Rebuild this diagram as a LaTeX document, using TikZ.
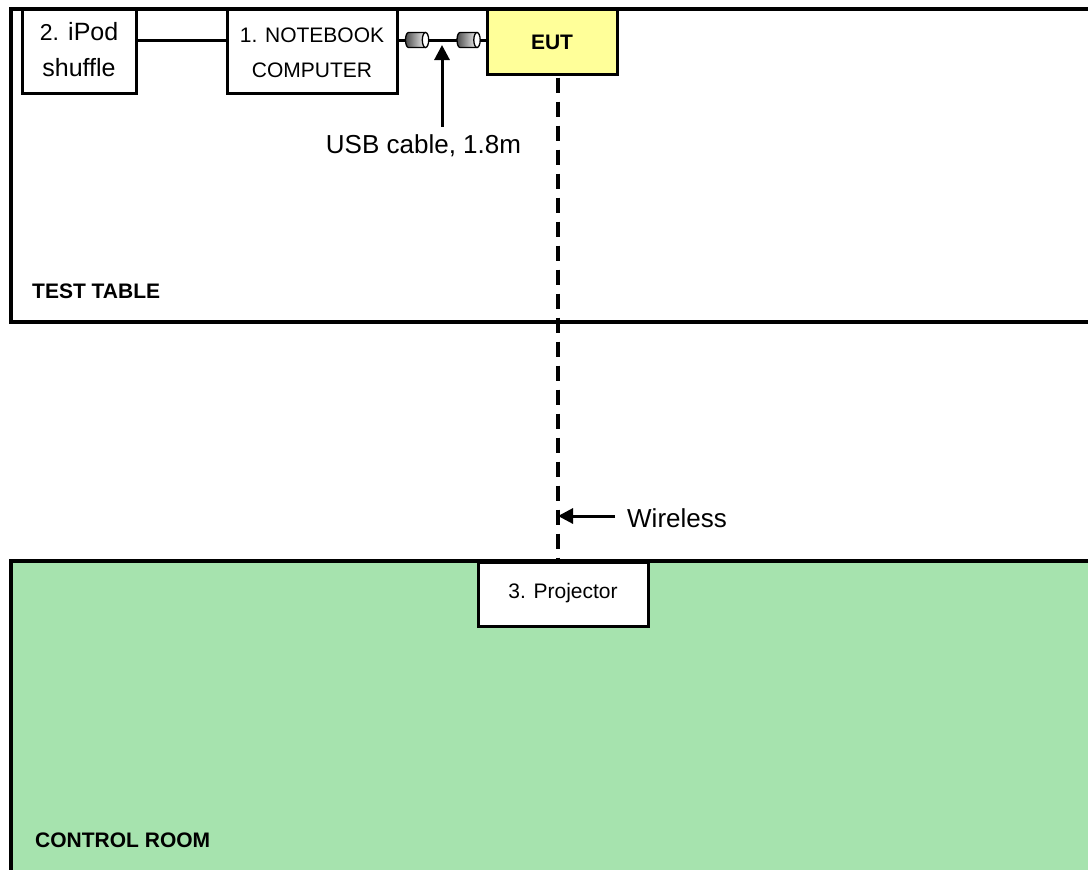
\documentclass[tikz,border=0pt]{standalone}
\usepackage{fontspec}
\setmainfont{Liberation Sans}
\usetikzlibrary{arrows.meta}
\definecolor{roomgreen}{HTML}{A6E3AE}
\definecolor{eutyellow}{HTML}{FFFF99}
\begin{document}
\begin{tikzpicture}[x=1pt,y=1pt,
  box/.style={draw, line width=3pt, fill=white, inner sep=0pt},
  lbl/.style={inner sep=0pt, anchor=base, font=\fontsize{21}{25}\selectfont},
  bigl/.style={inner sep=0pt, anchor=base, font=\fontsize{26}{30}\selectfont},
  boldl/.style={inner sep=0pt, anchor=base west, font=\bfseries\fontsize{21}{25}\selectfont},
  wall/.style={line width=4pt},
  wire/.style={line width=3pt},
  radio/.style={line width=4pt, dash pattern=on 15pt off 9pt},
  plugfill/.style={draw, line width=1.3pt, left color=black!70, right color=black!5},
  pointer/.style={line width=3pt, -{Triangle[length=15pt,width=15pt]}},
  plug/.pic={
    \path[plugfill] (-8.5,7.5) -- (8.5,7.5) -- (8.5,-7.5) -- (-8.5,-7.5)
      arc[start angle=270, end angle=90, x radius=3, y radius=7.5] -- cycle;
    \draw[line width=1.3pt, fill=white] (8.5,0) ellipse [x radius=3.2, y radius=7.5];
  }
]
\useasboundingbox (0,0) rectangle (1088,-870);
% areas
\fill[white] (11,-9) rectangle (1100,-322);
\draw[wall] (1100,-9) -- (11,-9) -- (11,-322) -- (1100,-322);
\fill[roomgreen] (11,-561) rectangle (1100,-880);
\draw[wall] (1100,-561) -- (11,-561) -- (11,-880);
\node[boldl] (tt) at (32,-298) {TEST TABLE};
\node[boldl] (cr) at (35,-847) {CONTROL ROOM};
% helper coordinates
\coordinate (cab) at (0,-40.5);
\coordinate (wl) at (558,-516);
\coordinate (usbtip) at (442,-45);
% boxes
\node[box, minimum width=114pt, minimum height=84pt] (ipod) at (79,-51) {};
\node[box, minimum width=170pt, minimum height=84pt] (nb) at (312,-51) {};
\node[box, fill=eutyellow, minimum width=130pt, minimum height=65pt] (eut) at (552,-41.5) {};
% wireless link
\draw[radio, shorten <=2pt] (eut.south -| wl) -- (0,-561 -| wl);
\node[box, minimum width=170pt, minimum height=64pt] (proj) at (563,-594) {};
% labels in boxes
\node[lbl, font=\fontsize{25}{30}\selectfont] (ipodA) at (79,-40) {{\fontsize{23}{25}\selectfont 2.} iPod};
\node[lbl, font=\fontsize{25}{30}\selectfont] (ipodB) at (79,-76) {shuffle};
\node[lbl] (nbA) at (312,-42) {1. NOTEBOOK};
\node[lbl] (nbB) at (312,-77) {COMPUTER};
\node[lbl, font=\bfseries\fontsize{21}{25}\selectfont] (eutl) at (552,-49) {EUT};
\node[lbl] (projl) at (563,-598) {3. Projector};
% cables
\draw[wire] (ipod.east |- cab) -- (nb.west |- cab);
\draw[wire] (nb.east |- cab) -- (eut.west |- cab);
\pic at (417,-40) {plug};
\pic at (468.5,-40) {plug};
% callouts
\node[bigl, inner ysep=7pt] (usb) at (423.5,-153) {USB cable, 1.8m};
\draw[pointer] (usb.north -| usbtip) -- (usbtip);
\node[bigl, anchor=base west] (wtxt) at (627,-527) {Wireless};
\draw[pointer] ([xshift=-12pt]wtxt.west |- wl) -- (wl);
\end{tikzpicture}
\end{document}
